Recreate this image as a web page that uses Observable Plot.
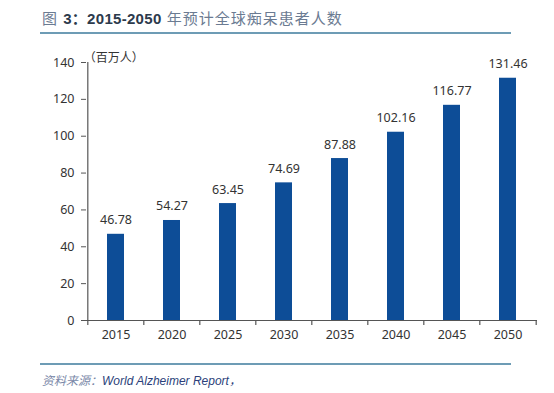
<!DOCTYPE html>
<html><head><meta charset="utf-8">
<script src="https://cdn.jsdelivr.net/npm/d3@7"></script>
<script src="https://cdn.jsdelivr.net/npm/@observablehq/plot@0.6"></script>
<style>
body{margin:0;background:#fff;width:554px;height:393px;overflow:hidden;font-family:"Noto Sans","Noto Sans CJK SC",sans-serif;}
#title{position:absolute;left:42px;top:7px;font-size:15px;color:#6b7b92;font-family:"Liberation Sans","Noto Sans CJK SC",sans-serif;letter-spacing:1px;white-space:nowrap;}
#title b{color:#2c3a4c;font-weight:bold;letter-spacing:0.3px;}
.rule{position:absolute;left:40px;width:471px;height:1.5px;background:#6d9cb5;}
#chart{position:absolute;left:0;top:40px;}
#src{position:absolute;left:42px;top:371px;font-size:12px;font-style:italic;color:#7a88a8;font-family:"Liberation Sans","Noto Sans CJK SC",sans-serif;white-space:nowrap;}
#src span{color:#2b3f7a;}
</style></head>
<body>
<div id="title">图 <b>3：2015-2050</b> 年预计全球痴呆患者人数</div>
<div class="rule" style="top:32px"></div>
<div id="chart"></div>
<div class="rule" style="top:363px"></div>
<div id="src">资料来源：<span>World Alzheimer Report，</span></div>
<script>
const years = ["2015","2020","2025","2030","2035","2040","2045","2050"];
const patients = [46.78,54.27,63.45,74.69,87.88,102.16,116.77,131.46];
const yTicks = [0,20,40,60,80,100,120,140];
const unitLabel = "（百万人）";

const data = years.map((y,i)=>({year:y, value:patients[i]}));
const W = 554, H = 315, mL = 86, mR = 17, mT = 22, mB = 35;
const half = (W - mL - mR) / years.length / 2;
const barColor = "#0d4d97";
const textColor = "#333";
const axisColor = "#555";

const chart = Plot.plot({
  width: W, height: H,
  marginLeft: mL, marginRight: mR, marginTop: mT, marginBottom: mB,
  style: {fontFamily: '"Noto Sans", sans-serif', fontSize: "12px", color: textColor, background: "#fff"},
  x: {domain: years, paddingInner: 0.7, paddingOuter: 0.35, axis: null},
  y: {domain: [0,140], ticks: yTicks, axis: null},
  marks: [
    Plot.barY(data, {x: "year", y: "value", fill: barColor}),
    Plot.text(data, {x: "year", y: "value", text: d => d.value.toFixed(2), dy: -14, fill: textColor, fontSize: 12.5}),
    // y axis
    Plot.ruleX([0], {x: () => years[0], dx: -half, y1: 0, y2: 140, stroke: axisColor, strokeWidth: 1.2}),
    Plot.axisY({ticks: yTicks, tickSize: 5, tickPadding: 7, label: null, stroke: axisColor, fontSize: 12.5, color: textColor}),
    // x axis
    Plot.ruleY([0], {stroke: axisColor, strokeWidth: 1.2}),
    Plot.axisX({tickSize: 0, tickPadding: 10, label: null, fontSize: 12.5}),
    Plot.ruleX(years, {x: d => d, dx: -half, y1: 0, y2: 0, insetBottom: -5, stroke: axisColor, strokeWidth: 1.2}),
    Plot.ruleX([years[years.length-1]], {x: d => d, dx: half, y1: 0, y2: 0, insetBottom: -5, stroke: axisColor, strokeWidth: 1.2}),
    Plot.text([unitLabel], {x: () => years[0], y: () => 140, dx: -half - 4, text: d => d, textAnchor: "start", dy: -4, fill: textColor, fontSize: 12, fontFamily: '"Noto Sans CJK SC", sans-serif'})
  ]
});
document.getElementById("chart").appendChild(chart);
</script>
</body></html>
